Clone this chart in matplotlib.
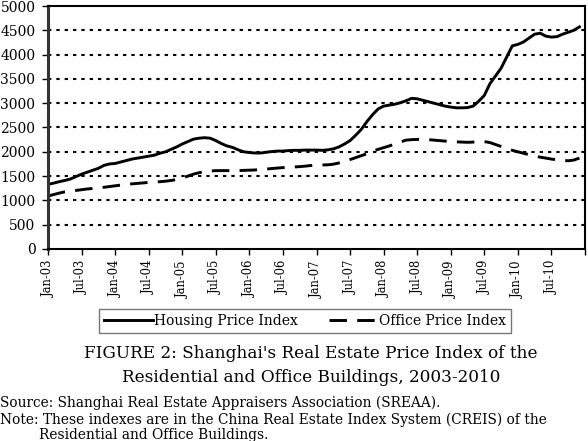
import matplotlib.pyplot as plt
import numpy as np

# === data (monthly Jan-03 .. Dec-10) ===
housing = [
    1330, 1355, 1385, 1410, 1440, 1490, 1540, 1580, 1620, 1660, 1720, 1750,
    1760, 1790, 1820, 1850, 1870, 1890, 1910, 1930, 1970, 2000, 2050, 2100,
    2160, 2210, 2260, 2280, 2290, 2280, 2230, 2170, 2120, 2090, 2040, 2000,
    1985, 1975, 1975, 1990, 2005, 2015, 2015, 2025, 2030, 2030, 2035, 2035,
    2035, 2030, 2040, 2060, 2100, 2160, 2230, 2340, 2460, 2620, 2760, 2880,
    2940, 2960, 2980, 3010, 3050, 3100, 3090, 3060, 3030, 3000, 2970, 2940,
    2920, 2905, 2905, 2910, 2940, 3040, 3160, 3400, 3560, 3720, 3950, 4180,
    4210, 4260, 4340, 4420, 4440, 4380, 4360, 4370, 4420, 4460, 4500, 4570,
]
office = [
    1090, 1120, 1150, 1175, 1190, 1205, 1220, 1235, 1245, 1255, 1270, 1285,
    1300, 1315, 1330, 1340, 1350, 1360, 1370, 1375, 1385, 1395, 1410, 1430,
    1460, 1500, 1540, 1570, 1590, 1605, 1612, 1613, 1613, 1613, 1613, 1618,
    1622, 1626, 1635, 1645, 1655, 1665, 1675, 1682, 1688, 1695, 1705, 1718,
    1728, 1730, 1732, 1745, 1770, 1800, 1840, 1880, 1920, 1960, 2010, 2050,
    2085, 2120, 2160, 2200, 2240, 2250, 2255, 2258, 2250, 2240, 2230, 2220,
    2210, 2205, 2200, 2195, 2200, 2205, 2210, 2190, 2150, 2110, 2070, 2030,
    2000, 1970, 1940, 1910, 1890, 1870, 1850, 1835, 1825, 1815, 1830, 1870,
]
tick_labels = ["Jan-03", "Jul-03", "Jan-04", "Jul-04", "Jan-05", "Jul-05",
               "Jan-06", "Jul-06", "Jan-07", "Jul-07", "Jan-08", "Jul-08",
               "Jan-09", "Jul-09", "Jan-10", "Jul-10"]
y_ticks = list(range(0, 5001, 500))

plt.rcParams['font.family'] = ['DejaVu Serif']

fig = plt.figure(figsize=(5.88, 4.41), dpi=100)
ax = fig.add_axes([48 / 588, 1 - 249 / 441, 537 / 588, 243 / 441])

months = np.arange(len(housing))
ax.plot(months, housing, color='black', lw=2.1, label="Housing Price Index",
        solid_joinstyle='round')
ax.plot(months, office, color='black', lw=2.1, linestyle=(0, (6, 3.5)),
        label="Office Price Index")

# dotted horizontal grid
for v in y_ticks[1:-1]:
    ax.axhline(v, color='black', lw=1.5, linestyle=(0, (1.6, 2.4)), zorder=0)

ax.set_xlim(0, 96)
ax.set_ylim(0, 5000)
ax.set_yticks(y_ticks)
ax.set_yticklabels([str(v) for v in y_ticks], fontsize=10)
ax.set_xticks(np.arange(0, 97, 6))
ax.set_xticklabels(tick_labels + [""], rotation=90, fontsize=8.3)
ax.tick_params(axis='both', direction='out', length=4, width=1, pad=4)
ax.tick_params(axis='y', pad=5)

for side in ['top', 'right', 'bottom']:
    ax.spines[side].set_linewidth(1.5)
ax.spines['left'].set_linewidth(2.2)
ax.spines['left'].set_color('#333333')

leg = fig.legend(loc='center', bbox_to_anchor=(305 / 588, 1 - 321 / 441),
                 ncol=2, fontsize=10, frameon=True, fancybox=False,
                 edgecolor='#555555', handlelength=3.5, handletextpad=0.1,
                 columnspacing=2.2, borderpad=0.35)
leg.get_frame().set_linewidth(1.0)

fig.text(311 / 588, 1 - 353 / 441,
         "FIGURE 2: Shanghai's Real Estate Price Index of the",
         ha='center', va='center', fontsize=12.2)
fig.text(311 / 588, 1 - 377 / 441,
         "Residential and Office Buildings, 2003-2010",
         ha='center', va='center', fontsize=12.2)
fig.text(0, 1 - 403 / 441,
         "Source: Shanghai Real Estate Appraisers Association (SREAA).",
         ha='left', va='center', fontsize=9.9)
fig.text(0, 1 - 420 / 441,
         "Note: These indexes are in the China Real Estate Index System (CREIS) of the",
         ha='left', va='center', fontsize=9.9)
fig.text(39 / 588, 1 - 435 / 441,
         "Residential and Office Buildings.",
         ha='left', va='center', fontsize=9.9)

plt.savefig("out.png", dpi=100)
